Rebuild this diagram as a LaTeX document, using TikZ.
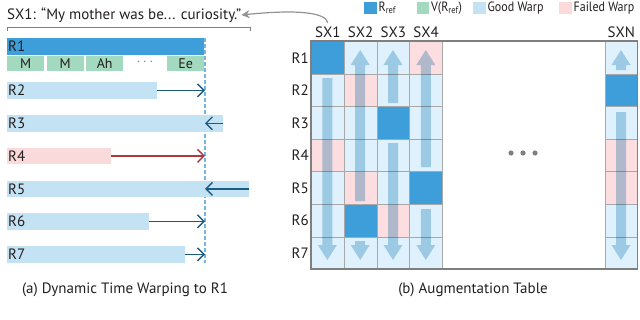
\documentclass[tikz,border=0pt]{standalone}
\usepackage{fontspec}
\setmainfont{PT Sans}
\usetikzlibrary{arrows.meta,calc}
\definecolor{txt}{HTML}{231F20}
\definecolor{refblue}{HTML}{3D9EDA}
\definecolor{vgreen}{HTML}{A2D9BF}
\definecolor{goodbar}{HTML}{C3E2F3}
\definecolor{failbar}{HTML}{FADADB}
\definecolor{goodcell}{HTML}{DFF1FC}
\definecolor{failcell}{HTML}{FCDDE0}
\definecolor{warpblue}{HTML}{1D5C82}
\definecolor{warpred}{HTML}{AC3A3E}
\definecolor{dashc}{HTML}{74B6E0}
\definecolor{gridc}{HTML}{A8A8A8}
\definecolor{borderc}{HTML}{7F7F7F}
\definecolor{arrowc}{HTML}{B3D6E8}
\definecolor{dotc}{HTML}{808080}
\newcommand\tablearrow[3]{%
  \pgfmathsetmacro\tadir{sign(#3-#2)}%
  \pgfmathsetmacro\tabase{#3-\tadir*15}%
  \fill[arrowc] (#1-5,#2) -- (#1-5,\tabase) -- (#1-9.5,\tabase) -- (#1,#3)
     -- (#1+9.5,\tabase) -- (#1+5,\tabase) -- (#1+5,#2) -- cycle;}
\newcommand\legnarrow[1]{\scalebox{0.89}[1]{#1}}
\begin{document}
\begin{tikzpicture}[x=1pt,y=-1pt,
  every node/.style={text=txt},
  mainfont/.style={font=\fontsize{15}{18}\selectfont},
  legfont/.style={font=\fontsize{13.5}{16}\selectfont},
  bar/.style={rectangle, anchor=north west, inner sep=0pt, minimum height=16.5pt},
  barlabel/.style={mainfont, anchor=west, inner sep=0pt},
  vbox/.style={rectangle, anchor=north west, inner sep=0pt, fill=vgreen,
     minimum width=37pt, minimum height=15pt, font=\fontsize{14}{16}\selectfont},
  warp/.style={line width=1.4pt, -{Straight Barb[length=6.5pt,width=13pt]}},
  cellbase/.style={rectangle, anchor=north west, inner sep=0pt, draw=gridc,
     line width=0.8pt, minimum width=32.8pt, minimum height=32.6pt},
  cellr/.style={cellbase, fill=refblue},
  cellg/.style={cellbase, fill=goodcell},
  cellf/.style={cellbase, fill=failcell},
  swatch/.style={rectangle, anchor=north west, inner sep=0pt, minimum width=12.5pt, minimum height=12.5pt},
  legtext/.style={legfont, anchor=west, inner sep=0pt},
]
\useasboundingbox (0,0) rectangle (640,319);

% ---------- left panel ----------
\node[mainfont, anchor=west, inner sep=0pt] (quote) at (7,15) {SX1: “My mother was be... curiosity.”};
\draw[borderc, line width=1pt] (7,31) -- (7,27) -- (250,27) -- (250,31);

\coordinate (dtop) at (205,38);
\coordinate (dbot) at (205,263);
\draw[dashc, line width=1.4pt, dash pattern=on 4pt off 2pt] (dtop) -- (dbot);

\node[bar, fill=refblue, minimum width=197pt] (r1) at (7,38) {};
\node[barlabel] (r1l) at ([xshift=1pt]r1.west) {R1};

\node[vbox] (m1) at (7,56) {M};
\node[vbox] (m2) at (46.5,56) {M};
\node[vbox] (ah) at (86,56) {Ah};
\node[text=dotc, font=\fontsize{14}{16}\selectfont, inner sep=0pt] (mdots) at (145,62) {$\cdots$};
\node[vbox] (ee) at (167,56) {Ee};

\node[bar, fill=goodbar, minimum width=150pt] (r2) at (7,82) {};
\node[barlabel] (r2l) at ([xshift=1pt]r2.west) {R2};
\node[bar, fill=goodbar, minimum width=216pt] (r3) at (7,114.8) {};
\node[barlabel] (r3l) at ([xshift=1pt]r3.west) {R3};
\node[bar, fill=failbar, minimum width=104pt] (r4) at (7,147.4) {};
\node[barlabel] (r4l) at ([xshift=1pt]r4.west) {R4};
\node[bar, fill=goodbar, minimum width=242pt] (r5) at (7,180.4) {};
\node[barlabel] (r5l) at ([xshift=1pt]r5.west) {R5};
\node[bar, fill=goodbar, minimum width=142pt] (r6) at (7,213) {};
\node[barlabel] (r6l) at ([xshift=1pt]r6.west) {R6};
\node[bar, fill=goodbar, minimum width=178pt] (r7) at (7,246) {};
\node[barlabel] (r7l) at ([xshift=1pt]r7.west) {R7};

\draw[warp, warpblue] (r2.east) -- (r2.east -| dtop);
\draw[warp, warpblue] (r3.east) -- (r3.east -| dtop);
\draw[warp, warpred] (r4.east) -- (r4.east -| dtop);
\draw[warp, warpblue] (r5.east) -- (r5.east -| dtop);
\draw[warp, warpblue] (r6.east) -- (r6.east -| dtop);
\draw[warp, warpblue] (r7.east) -- (r7.east -| dtop);

\node[mainfont] (capa) at (125,290) {(a) Dynamic Time Warping to R1};

% ---------- right panel ----------
\node[swatch, fill=refblue] (s1) at (364,1.5) {};
\node[legtext] (l1) at ([xshift=1.5pt]s1.east) {\legnarrow{R\textsubscript{ref}}};
\node[swatch, fill=vgreen] (s2) at (416.5,1.5) {};
\node[legtext] (l2) at ([xshift=1.5pt]s2.east) {\legnarrow{V(R\textsubscript{ref})}};
\node[swatch, fill=goodbar] (s3) at (473,1.5) {};
\node[legtext] (l3) at ([xshift=1.5pt]s3.east) {\legnarrow{Good Warp}};
\node[swatch, fill=failbar] (s4) at (559,1.5) {};
\node[legtext] (l4) at ([xshift=1.5pt]s4.east) {\legnarrow{Failed Warp}};

\foreach \col/\x/\states in {1/311/{r,g,g,f,g,g,g},2/343.8/{g,f,g,g,f,r,g},3/376.6/{g,g,r,g,g,f,g},4/409.4/{f,g,g,g,r,g,g},N/604.6/{g,r,g,f,f,g,g}}{
  \foreach \s [count=\r] in \states {
    \node[cell\s] (c\col-\r) at ({\x},{41+(\r-1)*32.6}) {};
  }
}

\begin{scope}[blend mode=multiply]
\tablearrow{327.4}{78}{260}
\tablearrow{360.2}{201}{50}
\tablearrow{360.2}{241}{260}
\tablearrow{393}{103}{50}
\tablearrow{393}{143}{260}
\tablearrow{425.8}{167}{50}
\tablearrow{425.8}{209}{260}
\tablearrow{621}{70}{50}
\tablearrow{621}{112}{260}
\end{scope}

\draw[borderc, line width=1.5pt] (311,41) rectangle (637.4,269.2);

\foreach \col/\lab in {1/SX1,2/SX2,3/SX3,4/SX4,N/SXN}{
  \node[mainfont, anchor=base] (h\col) at ([yshift=-9pt]c\col-1.north |- 0,28) {\lab};
}
\foreach \r in {1,...,7}{
  \node[mainfont, anchor=east, inner sep=0pt] (rl\r) at ([xshift=-2pt]c1-\r.west) {R\r};
}

\fill[dotc] (511,153) circle (2.6) (523,153) circle (2.6) (535,153) circle (2.6);

\draw[borderc!85, line width=1.2pt, -{Stealth[length=8pt,width=8pt]}]
  (h1.north) .. controls (326,13) and (300,9) .. (quote.east);

\node[mainfont] (capb) at (473,290) {(b) Augmentation Table};
\end{tikzpicture}
\end{document}
